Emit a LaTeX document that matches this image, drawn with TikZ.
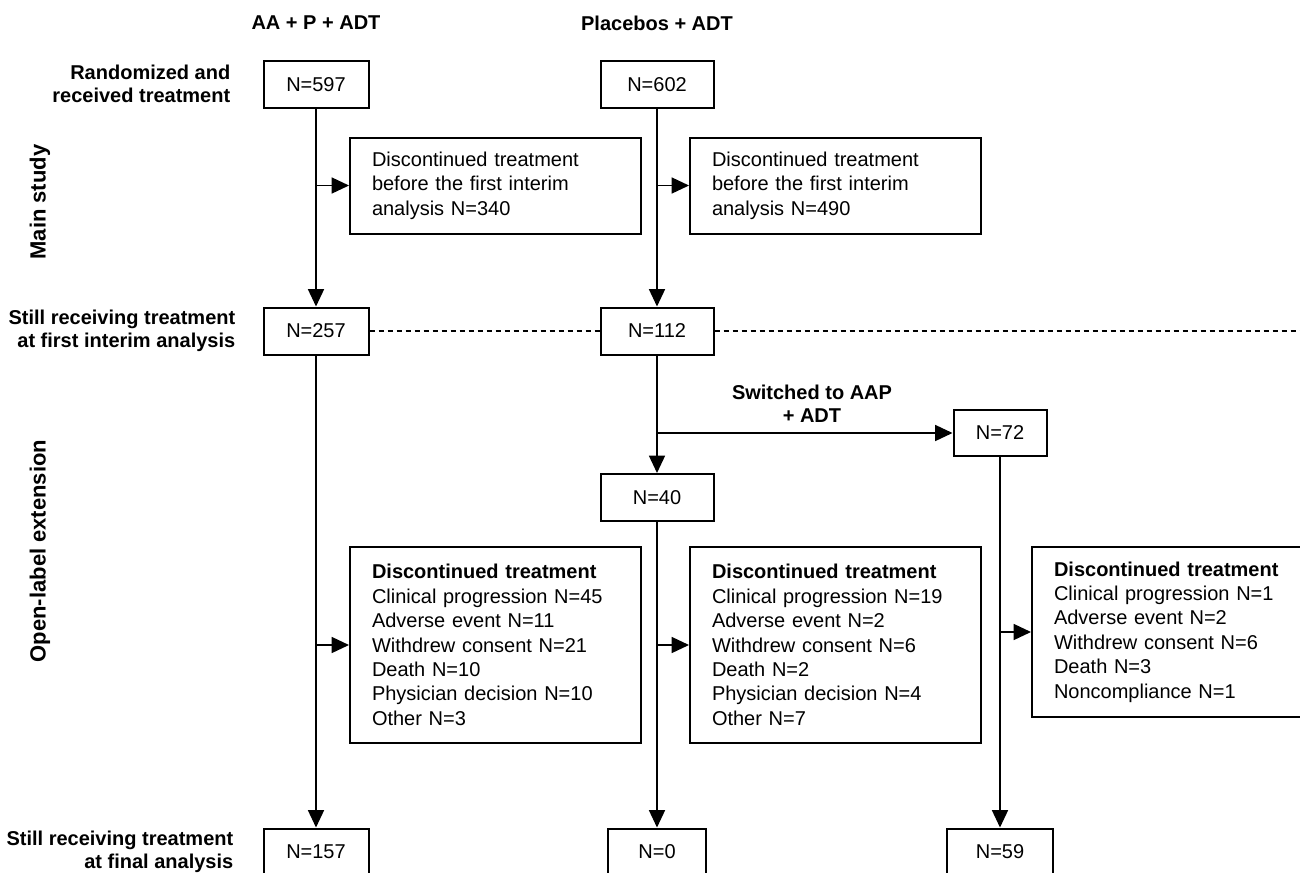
\documentclass[tikz,border=0pt]{standalone}
\usepackage{fontspec}
\setmainfont{Liberation Sans}
\usetikzlibrary{arrows.meta,positioning}

\begin{document}
\begin{tikzpicture}[x=0.75pt,y=-0.75pt,
    every node/.style={font=\fontsize{15}{18.3}\selectfont},
    numbox/.style={draw,line width=1.5pt,minimum width=#1,minimum height=35.25pt,inner sep=0pt},
    numbox/.default=78.75pt,
    disbox/.style={draw,line width=1.5pt,text width=185.25pt,inner xsep=16.5pt,inner ysep=0pt,align=left,minimum height=#1},
    headlab/.style={font=\fontsize{15}{17.3}\selectfont\bfseries,align=center},
    rowlab/.style={font=\fontsize{15}{17.3}\selectfont\bfseries,align=right,anchor=east},
    sectlab/.style={font=\fontsize{16.5}{20}\selectfont\bfseries,rotate=90},
    arr/.style={line width=1.1pt,-{Triangle[length=13pt,width=12pt]}},
    sep/.style={line width=1pt,dashed,dash pattern=on 3.75pt off 3pt}]
    \useasboundingbox (0,0) rectangle (1300,872);
    % column heads and side labels
    \node[headlab] (headA) at (316,23) {AA + P + ADT};
    \node[headlab] (headB) at (657,23) {Placebos + ADT};
    \node[sectlab] (mainlab) at (40,202) {Main study};
    \node[sectlab] (openlab) at (40,551) {Open-label extension};
    \node[rowlab] (row0) at (235,84) {Randomized and\\received treatment};
    \node[rowlab] (row1) at (240,331) {Still receiving treatment\\at first interim analysis};
    \node[rowlab] (row3) at (238,852) {Still receiving treatment\\at final analysis};
    % main study
    \node[numbox] (nA0) at (316,84.5) {N=597};
    \node[numbox=84.75pt] (nB0) at (657,84.5) {N=602};
    \node[disbox=72pt] (dA1) at (495.5,185.5) {Discontinued treatment\\before the first interim\\analysis N=340};
    \node[disbox=72pt] (dB1) at (835.5,185.5) {Discontinued treatment\\before the first interim\\analysis N=490};
    \node[numbox] (nA1) at (316,331) {N=257};
    \node[numbox=84.75pt] (nB1) at (657,331) {N=112};
    \coordinate (sepend) at (1300,331);
    % open-label extension
    \node[numbox=69.75pt,minimum height=34.5pt] (nC1) at (1000,433) {N=72};
    \node[numbox=84.75pt] (nB2) at (657,497.5) {N=40};
    \node[headlab] (switchlab) at (812,404) {Switched to AAP\\+ ADT};
    \node[disbox=147pt] (dA2) at (495.5,645) {\textbf{Discontinued treatment}\\Clinical progression N=45\\Adverse event N=11\\Withdrew consent N=21\\Death N=10\\Physician decision N=10\\Other N=3};
    \node[disbox=147pt] (dB2) at (835.5,645) {\textbf{Discontinued treatment}\\Clinical progression N=19\\Adverse event N=2\\Withdrew consent N=6\\Death N=2\\Physician decision N=4\\Other N=7};
    \node[disbox=127.5pt] (dC2) at (1177.5,632) {\textbf{Discontinued treatment}\\Clinical progression N=1\\Adverse event N=2\\Withdrew consent N=6\\Death N=3\\Noncompliance N=1};
    \node[numbox] (nA3) at (316,852) {N=157};
    \node[numbox=73.5pt] (nB3) at (657,852) {N=0};
    \node[numbox=79.5pt] (nC3) at (1000,852) {N=59};
    % connectors
    \draw[arr] (nA0) -- (nA1);
    \draw[arr] (nA1) -- (nA3);
    \draw[arr] (nA0 |- dA1) -- (dA1);
    \draw[arr] (nA0 |- dA2) -- (dA2);
    \draw[arr] (nB0) -- (nB1);
    \draw[arr] (nB0 |- dB1) -- (dB1);
    \draw[arr] (nB1) -- (nB2);
    \draw[arr] (nB1 |- nC1) -- (nC1);
    \draw[arr] (nB2) -- (nB3);
    \draw[arr] (nB2 |- dB2) -- (dB2);
    \draw[arr] (nC1) -- (nC3);
    \draw[arr] (nC1 |- dC2) -- (dC2);
    \draw[sep] (nA1) -- (nB1);
    \draw[sep] (nB1) -- (sepend);
\end{tikzpicture}
\end{document}
